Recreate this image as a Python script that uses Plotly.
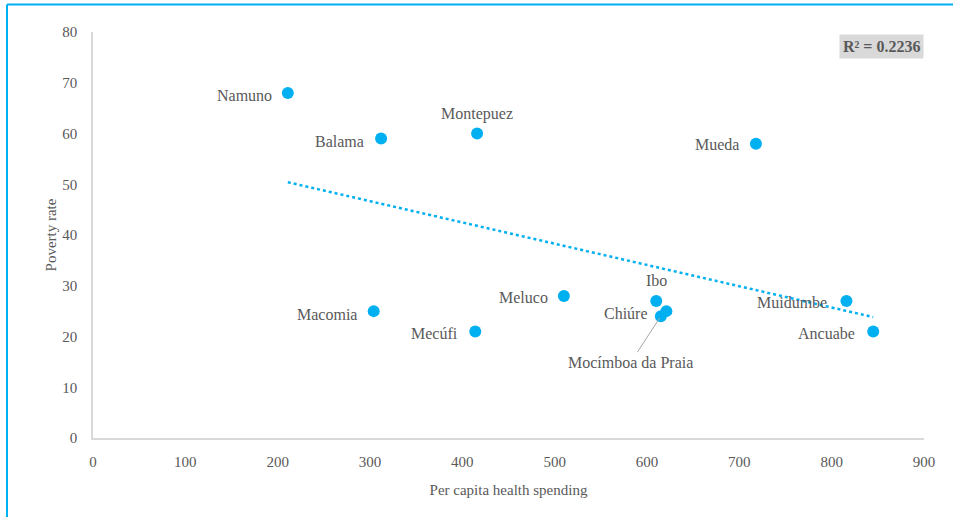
import numpy as np
import plotly.graph_objects as go

districts = ["Namuno", "Balama", "Montepuez", "Mueda", "Meluco", "Macomia",
             "Mecúfi", "Ibo", "Mocímboa da Praia", "Chiúre", "Muidumbe", "Ancuabe"]
spending = [211, 312, 416, 718, 510, 304, 414, 610, 615, 621, 816, 845]
poverty = [68, 59, 60, 58, 28, 25, 21, 27, 24, 25, 27, 21]
x_ticks = [0, 100, 200, 300, 400, 500, 600, 700, 800, 900]
y_ticks = [0, 10, 20, 30, 40, 50, 60, 70, 80]
r2_label = "R² = 0.2236"

BLUE = "#00b0f0"
GRAY = "#595959"
FONT = "Liberation Serif"

# label placement (style): (xanchor, xshift, yshift)
label_style = {
    "Namuno": ("right", -14, -3),
    "Balama": ("right", -15, -3),
    "Montepuez": ("center", 0, 20),
    "Mueda": ("right", -15, -1),
    "Meluco": ("right", -14, -2),
    "Macomia": ("right", -15, -3),
    "Mecúfi": ("right", -15, -2),
    "Ibo": ("center", 0, 20),
    "Chiúre": ("right", -16, -2),
    "Muidumbe": ("right", -17, -2),
    "Ancuabe": ("right", -16, -2),
}

fig = go.Figure()

# trendline from least squares fit
xa = np.array(spending, dtype=float)
ya = np.array(poverty, dtype=float)
m, b = np.polyfit(xa, ya, 1)
xt = np.array([xa.min(), xa.max()])
fig.add_trace(go.Scatter(x=xt, y=m * xt + b, mode="lines",
                         line=dict(color=BLUE, width=2.5, dash="dot"),
                         hoverinfo="skip", showlegend=False))

fig.add_trace(go.Scatter(x=spending, y=poverty, mode="markers",
                         marker=dict(color=BLUE, size=12),
                         text=districts, showlegend=False))

annotations = []
for name, xv, yv in zip(districts, spending, poverty):
    if name == "Mocímboa da Praia":
        annotations.append(dict(x=xv, y=yv, xref="x", yref="y", text=name,
                                showarrow=True, arrowhead=0, arrowwidth=1,
                                arrowcolor="#a6a6a6", ax=-30, ay=46,
                                standoff=2,
                                font=dict(family=FONT, size=16, color=GRAY)))
        continue
    xanchor, xs, ys = label_style[name]
    annotations.append(dict(x=xv, y=yv, xref="x", yref="y", text=name,
                            showarrow=False, xanchor=xanchor, yanchor="middle",
                            xshift=xs, yshift=ys,
                            font=dict(family=FONT, size=16, color=GRAY)))

annotations.append(dict(x=1, y=1, xref="paper", yref="paper", text="<b>" + r2_label + "</b>",
                        showarrow=False, xanchor="right", yanchor="top",
                        yshift=-2, bgcolor="#d9d9d9", borderpad=3,
                        font=dict(family=FONT, size=16, color=GRAY)))

fig.update_layout(
    width=953, height=517,
    margin=dict(l=93, r=29, t=32, b=79),
    paper_bgcolor="white", plot_bgcolor="white",
    font=dict(family=FONT, size=15, color=GRAY),
    annotations=annotations,
    shapes=[
        dict(type="line", xref="paper", yref="paper",
             x0=(7 - 93) / 831, x1=(953 - 93) / 831,
             y0=1 + (32 - 4.5) / 406, y1=1 + (32 - 4.5) / 406,
             line=dict(color=BLUE, width=2)),
        dict(type="line", xref="paper", yref="paper",
             x0=(7 - 93) / 831, x1=(7 - 93) / 831,
             y0=1 + (32 - 4.5) / 406, y1=-(517 - 438) / 406 - 0.01,
             line=dict(color=BLUE, width=2)),
    ],
)

fig.update_xaxes(range=[0, 900], tickvals=x_ticks, showgrid=False, zeroline=False,
                 showline=True, linecolor="#d9d9d9", linewidth=1.5,
                 ticks="", ticklabelstandoff=9,
                 tickfont=dict(family=FONT, size=15, color=GRAY),
                 title=dict(text="Per capita health spending", standoff=16,
                            font=dict(family=FONT, size=15, color=GRAY)))
fig.update_yaxes(range=[0, 80], tickvals=y_ticks, showgrid=False, zeroline=False,
                 showline=True, linecolor="#d9d9d9", linewidth=1.5,
                 ticks="", ticklabelstandoff=11,
                 tickfont=dict(family=FONT, size=15, color=GRAY),
                 title=dict(text="Poverty rate", standoff=2,
                            font=dict(family=FONT, size=15, color=GRAY)))

fig.write_html("out.html", config={"displayModeBar": False},
               post_script="document.body.style.margin='0';")
